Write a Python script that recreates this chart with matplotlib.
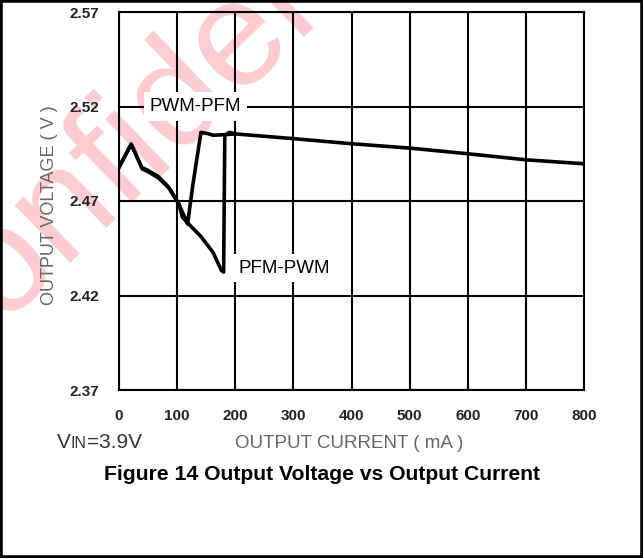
import matplotlib
matplotlib.use('Agg')
import matplotlib.pyplot as plt
from matplotlib.patches import Rectangle

plt.rcParams['font.family'] = ['Liberation Sans', 'DejaVu Sans']

# data (mA, V)
pwm_pfm_x = [0, 21, 39, 49, 67, 85, 102, 113, 118, 127, 141, 152, 162, 183, 200, 300, 400, 500, 600, 700, 800]
pwm_pfm_y = [2.4878, 2.5001, 2.4878, 2.4863, 2.4831, 2.4775, 2.4690, 2.4615, 2.4578, 2.4785, 2.5063, 2.5057,
             2.5048, 2.5051, 2.5055, 2.5030, 2.5003, 2.4980, 2.4950, 2.4918, 2.4897]
pfm_pwm_x = [0, 21, 40, 50, 68, 86, 103, 109, 120, 141, 162, 176, 180, 182, 190, 200]
pfm_pwm_y = [2.4878, 2.5001, 2.4870, 2.4855, 2.4822, 2.4768, 2.4685, 2.4615, 2.4578, 2.4512, 2.4427,
             2.4333, 2.4324, 2.5048, 2.5063, 2.5055]

x_ticks = [0, 100, 200, 300, 400, 500, 600, 700, 800]
y_ticks = [2.37, 2.42, 2.47, 2.52, 2.57]

W, H = 643, 558
fig = plt.figure(figsize=(W / 100, H / 100), dpi=100)


def fx(px):
    return px / W


def fy(py):
    return 1 - py / H


# watermark behind everything
fig.text(fx(-76), fy(397), 'Confidential', rotation=44, rotation_mode='anchor',
         ha='left', va='baseline', fontsize=108, color='#ffccd0', zorder=-1)

ax = fig.add_axes([fx(119), fy(390), fx(584) - fx(119), fy(12) - fy(390)])
ax.set_facecolor('none')

ax.plot(pwm_pfm_x, pwm_pfm_y, color='black', lw=2.6, solid_joinstyle='round')
ax.plot(pfm_pwm_x, pfm_pwm_y, color='black', lw=2.6, solid_joinstyle='round')

ax.set_xlim(0, 800)
ax.set_ylim(2.37, 2.57)
ax.set_xticks(x_ticks)
ax.set_yticks(y_ticks)
ax.set_yticklabels(['%.2f' % v for v in y_ticks])
ax.grid(True, color='black', lw=1.5)
ax.set_axisbelow(True)
ax.tick_params(length=0, labelsize=11, labelcolor='#222222')
ax.tick_params(axis='y', pad=14)
ax.tick_params(axis='x', pad=14)
for lab in ax.get_xticklabels() + ax.get_yticklabels():
    lab.set_fontweight('bold')
for sp in ax.spines.values():
    sp.set_linewidth(1.5)

ax.text(131, 2.52, 'PWM-PFM', fontsize=13.5, ha='center', va='center',
        bbox=dict(facecolor='white', edgecolor='none', pad=4))
ax.text(284, 2.4345, 'PFM-PWM', fontsize=13.5, ha='center', va='center',
        bbox=dict(facecolor='white', edgecolor='none', pad=4))

fig.text(fx(50), fy(205), 'OUTPUT VOLTAGE ( V )', rotation=90, ha='center', va='center',
         fontsize=13, color='#666666')
fig.text(fx(349), fy(443), 'OUTPUT CURRENT ( mA )', ha='center', va='center',
         fontsize=13.5, color='#666666')
fig.text(fx(322), fy(474), 'Figure 14 Output Voltage vs Output Current', ha='center', va='center',
         fontsize=15.2, fontweight='bold', color='black')

# VIN=3.9V with small-caps IN
r = fig.canvas.get_renderer()
t1 = fig.text(fx(57), fy(448), 'V', ha='left', va='baseline', fontsize=15, color='#333333')
x1 = t1.get_window_extent(r).x1
t2 = fig.text(x1 / W, fy(448), 'IN', ha='left', va='baseline', fontsize=11.5, color='#333333')
x2 = t2.get_window_extent(r).x1
fig.text(x2 / W, fy(448), '=3.9V', ha='left', va='baseline', fontsize=15, color='#333333')

# black frame around the picture
fig.patches.append(Rectangle((0, 0), 1, 1, transform=fig.transFigure, fill=False,
                             edgecolor='black', lw=4, zorder=10))

fig.savefig('out.png', dpi=100)
